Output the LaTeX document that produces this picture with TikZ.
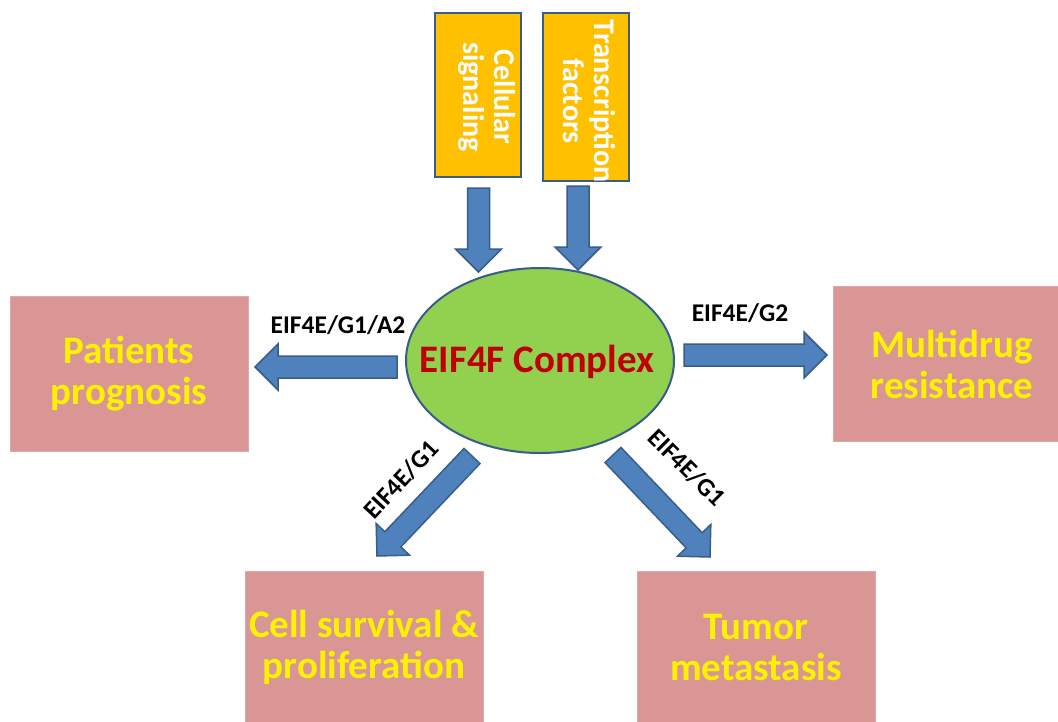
\documentclass[tikz,border=0pt]{standalone}
\usepackage{fontspec}
\setmainfont{Carlito}
\usetikzlibrary{calc,shapes.geometric}
\definecolor{boxpink}{HTML}{D99694}
\definecolor{boxpinkline}{HTML}{E0A8A6}
\definecolor{orangefill}{HTML}{FFC000}
\definecolor{darkline}{HTML}{385D8A}
\definecolor{greenfill}{HTML}{92D050}
\definecolor{arrowblue}{HTML}{4F81BD}
\definecolor{darkred}{HTML}{C00000}
\newcommand\blockarr[2]{%
  \coordinate (hb) at ($(#2)!23pt!(#1)$);
  \draw[blockarrow] ($(#1)!11pt!90:(#2)$) -- ($(hb)!11pt!-90:(#1)$) -- ($(hb)!23pt!-90:(#1)$)
    -- (#2) -- ($(hb)!23pt!90:(#1)$) -- ($(hb)!11pt!90:(#1)$) -- ($(#1)!11pt!-90:(#2)$) -- cycle;}
\begin{document}
\begin{tikzpicture}[x=1pt,y=-1pt,
  outbox/.style={draw=boxpinkline, line width=1pt, fill=boxpink, text=yellow, align=center,
    minimum width=238pt, minimum height=155pt, inner sep=0pt,
    font=\fontsize{39}{41}\selectfont\bfseries},
  inbox/.style={draw=darkline, line width=2pt, fill=orangefill, inner sep=0pt},
  intext/.style={text=white, align=center, inner sep=0pt, rotate=-90,
    font=\fontsize{30}{31}\selectfont\bfseries},
  blockarrow/.style={draw=darkline, line width=1.5pt, fill=arrowblue, line join=miter},
  lbl/.style={text=black, inner sep=0pt, font=\fontsize{25.5}{27}\selectfont\bfseries}]
\useasboundingbox (0,0) rectangle (1058,721);
\fill[white] (0,0) rectangle (1058,721);
% input boxes
\node[inbox, minimum width=86pt, minimum height=164pt] (cs) at (478,95) {};
\node[intext] (cst) at (487,97) {Cellular\\signaling};
\node[inbox, minimum width=86pt, minimum height=168pt] (tf) at (586,97) {};
\node[intext] (tft) at (589,101) {Transcription\\factors};
% central ellipse
\node[ellipse, draw=darkline, line width=2pt, fill=greenfill, minimum width=268pt, minimum height=185pt,
  inner sep=0pt] (c) at (540,360.5) {};
\node[text=darkred, inner sep=0pt, font=\fontsize{39}{40}\selectfont\bfseries] (ct) at (537,362) {EIF4F Complex};
% output boxes
\node[outbox] (pp) at (129,373.5) {Patients\\prognosis};
\node[outbox] (mr) at (952,364) {Multidrug\\resistance};
\node[outbox, minimum height=152pt] (sp) at (364,647) {Cell survival \&\\proliferation};
\node[outbox, minimum height=152pt] (tm) at (756,647) {Tumor\\metastasis};
% arrow ends
\coordinate (a1t) at (478.5,188); \coordinate (a1h) at (478.5,272);
\coordinate (a2t) at (578,186);   \coordinate (a2h) at (578,270);
\coordinate (a3t) at (397,367);   \coordinate (a3h) at (255,367);
\coordinate (a4t) at (684,355);   \coordinate (a4h) at (827,355);
\coordinate (a5t) at (472,456);   \coordinate (a5h) at (377,556);
\coordinate (a6t) at (613,455);   \coordinate (a6h) at (710,557);
\blockarr{a1t}{a1h}
\blockarr{a2t}{a2h}
\blockarr{a3t}{a3h}
\blockarr{a4t}{a4h}
\blockarr{a5t}{a5h}
\blockarr{a6t}{a6h}
% labels
\node[lbl] (l1) at (338,325) {EIF4E/G1/A2};
\node[lbl] (l2) at (740,313) {EIF4E/G2};
\node[lbl, rotate=47] (l3) at (401,480) {EIF4E/G1};
\node[lbl, rotate=-45] (l4) at (687,468) {EIF4E/G1};
\end{tikzpicture}
\end{document}
